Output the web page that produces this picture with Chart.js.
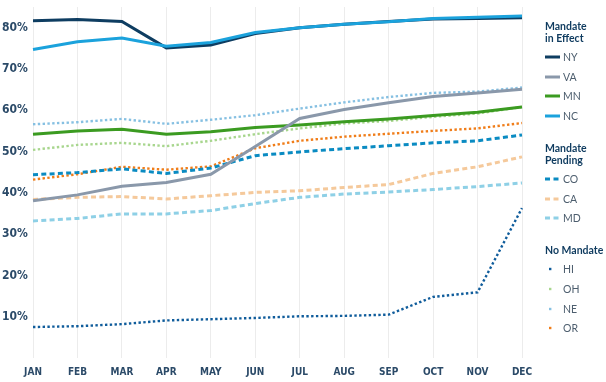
<!DOCTYPE html>
<html>
<head>
<meta charset="utf-8">
<title>Mandate chart</title>
<script src="https://cdn.jsdelivr.net/npm/chart.js@4.4.0/dist/chart.umd.min.js"></script>
<style>
  html, body { margin: 0; padding: 0; background: #fff; }
  #wrap { position: relative; width: 606px; height: 382px; }
  #legend { position: absolute; left: 545px; top: 20px; font-family: Lato, 'Open Sans', sans-serif; }
  .grp { margin-top: 16px; }
  .grp:first-child { margin-top: 0; }
  .grp h4 { margin: 0 0 3.5px; font-size: 10.5px; line-height: 12px; font-weight: 700; color: #0f3b5f; white-space: pre-line; }
  .item { height: 19.6px; display: flex; align-items: center; font-size: 10.5px; color: #4d5e6e; }
  .item svg { margin-right: 3px; }
</style>
</head>
<body>
<div id="wrap">
  <canvas id="mandateChart" width="606" height="382"></canvas>
  <div id="legend"></div>
</div>
<script>
// months on the x axis
const months = ['JAN', 'FEB', 'MAR', 'APR', 'MAY', 'JUN', 'JUL', 'AUG', 'SEP', 'OCT', 'NOV', 'DEC'];

// legend groups
const groupNames = ['Mandate\nin Effect', 'Mandate\nPending', 'No Mandate'];

// states, in legend order, and which group each belongs to
const states = ['NY', 'VA', 'MN', 'NC', 'CO', 'CA', 'MD', 'HI', 'OH', 'NE', 'OR'];
const stateGroup = [0, 0, 0, 0, 1, 1, 1, 2, 2, 2, 2];

// values (percent)
const nyValues = [81.7, 82.0, 81.5, 75.1, 75.8, 78.6, 80.0, 80.8, 81.5, 82.1, 82.2, 82.4];
const vaValues = [38.1, 39.5, 41.6, 42.5, 44.5, 51.2, 58.0, 60.2, 61.8, 63.3, 64.2, 65.1];
const mnValues = [54.2, 55.0, 55.4, 54.2, 54.8, 55.8, 56.4, 57.2, 57.9, 58.7, 59.5, 60.8];
const ncValues = [74.7, 76.6, 77.5, 75.5, 76.4, 78.8, 80.0, 80.8, 81.4, 82.2, 82.5, 82.8];
const coValues = [44.4, 44.9, 45.8, 44.7, 46.0, 49.0, 49.9, 50.7, 51.4, 52.1, 52.6, 54.0];
const caValues = [38.4, 38.9, 39.1, 38.5, 39.3, 40.1, 40.5, 41.3, 42.0, 44.7, 46.3, 48.7];
const mdValues = [33.2, 33.8, 34.9, 34.9, 35.7, 37.4, 38.9, 39.7, 40.2, 40.8, 41.5, 42.4];
const hiValues = [7.5, 7.7, 8.2, 9.1, 9.4, 9.7, 10.1, 10.2, 10.5, 14.8, 15.9, 36.3];
const ohValues = [50.4, 51.6, 52.1, 51.3, 52.6, 54.2, 55.6, 56.8, 57.4, 58.4, 59.2, 60.8];
const neValues = [56.6, 57.1, 57.9, 56.7, 57.7, 58.8, 60.4, 61.9, 63.2, 64.2, 64.5, 65.5];
const orValues = [43.2, 44.5, 46.3, 45.6, 46.4, 50.8, 52.6, 53.6, 54.3, 55.0, 55.6, 56.9];

const seriesValues = [nyValues, vaValues, mnValues, ncValues, coValues, caValues, mdValues,
                      hiValues, ohValues, neValues, orValues];

// y axis ticks
const yTicks = [10, 20, 30, 40, 50, 60, 70, 80];

// styling
const colors = ['#0e3d61', '#8a98aa', '#3b9b21', '#1ba2dc', '#0a8bc2', '#f5c99b', '#8ed0e6',
                '#0f5c9b', '#a8d68e', '#86c0e2', '#f07d19'];
const groupDash = [[], [5, 3.3], [2.4, 2.4]];
const groupWidth = [3, 3, 2.4];
const tickFont = "'DejaVu Sans', sans-serif";

const datasets = states.map((s, i) => ({
    label: s,
    data: seriesValues[i],
    borderColor: colors[i],
    backgroundColor: colors[i],
    borderWidth: groupWidth[stateGroup[i]],
    borderDash: groupDash[stateGroup[i]],
    borderCapStyle: 'butt',
    fill: false,
    pointRadius: 0,
    tension: 0,
    order: s === 'NC' ? -1 : i
}));

new Chart(document.getElementById('mandateChart').getContext('2d'), {
    type: 'line',
    data: { labels: months, datasets: datasets },
    options: {
        responsive: false,
        animation: false,
        layout: { padding: { top: 7, right: 84, left: 2, bottom: 0 } },
        plugins: { legend: { display: false }, tooltip: { enabled: false } },
        scales: {
            x: {
                grid: { color: '#ececec', drawTicks: false },
                border: { display: false },
                ticks: {
                    padding: 8, color: '#2b4a68', maxRotation: 0, autoSkip: false,
                    font: { family: tickFont, size: 10, weight: 'bold condensed' }
                },
                afterFit: (scale) => {
                    scale.height = 24;
                    scale.paddingLeft = 0;
                    scale.paddingRight = 0;
                }
            },
            y: {
                min: 0,
                max: 85,
                grid: { display: false },
                border: { display: false },
                ticks: {
                    stepSize: 10, padding: 6, color: '#2b4a68', crossAlign: 'far',
                    font: { family: tickFont, size: 12, weight: 'bold condensed' },
                    callback: (v) => yTicks.includes(v) ? v + '%' : ''
                },
                afterFit: (scale) => {
                    scale.width = 31;
                    scale.paddingTop = 0;
                    scale.paddingBottom = 0;
                }
            }
        }
    }
});

// html legend built from the same arrays
function swatch(color, group) {
    let inner;
    if (group === 0) {
        inner = `<line x1="0" y1="2" x2="15" y2="2" stroke="${color}" stroke-width="3"/>`;
    } else if (group === 1) {
        inner = `<line x1="0" y1="2" x2="15" y2="2" stroke="${color}" stroke-width="3" stroke-dasharray="5 3.5"/>`;
    } else {
        inner = `<rect x="4" y="0.8" width="2.4" height="2.4" fill="${color}"/>`;
    }
    return `<svg width="15" height="4">${inner}</svg>`;
}

const legend = document.getElementById('legend');
groupNames.forEach((g, gi) => {
    const div = document.createElement('div');
    div.className = 'grp';
    let html = `<h4>${g}</h4>`;
    states.forEach((s, i) => {
        if (stateGroup[i] === gi) {
            html += `<div class="item">${swatch(colors[i], gi)}<span>${s}</span></div>`;
        }
    });
    div.innerHTML = html;
    legend.appendChild(div);
});
</script>
</body>
</html>
